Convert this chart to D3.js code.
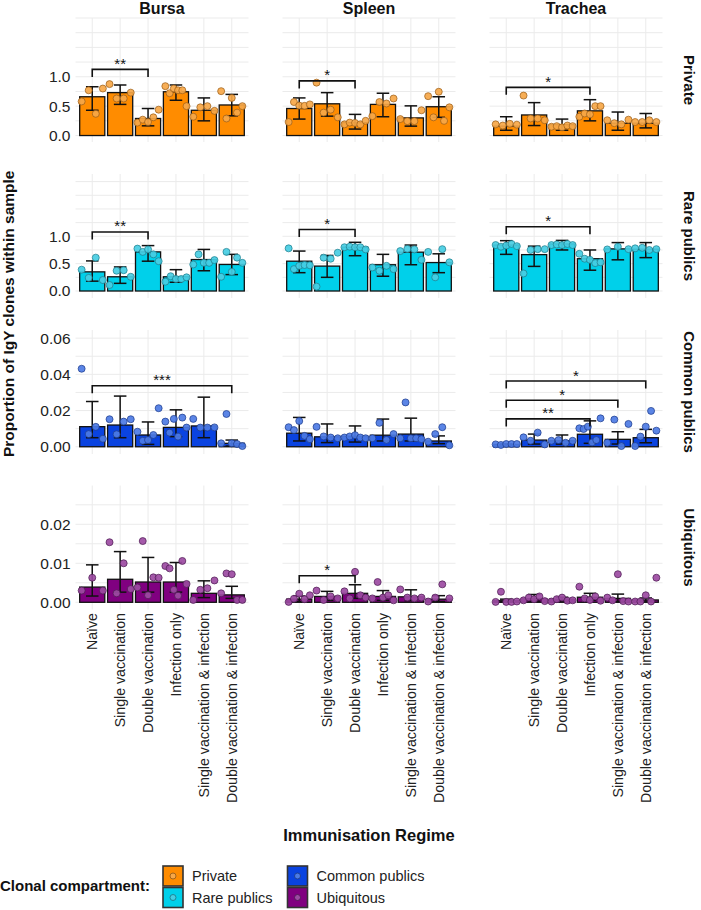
<!DOCTYPE html>
<html><head><meta charset="utf-8">
<script src="https://cdn.jsdelivr.net/npm/d3@7"></script>
<style>body{margin:0;background:#fff} svg{display:block} text{font-family:"Liberation Sans",Arial,Helvetica,sans-serif}</style>
</head><body><svg id="c" width="701" height="910"></svg>
<script>
// ---------------- DATA ----------------
const categories = ["Naïve","Single vaccination","Double vaccination","Infection only","Single vaccination & infection","Double vaccination & infection"];
const tissues = ["Bursa","Spleen","Trachea"];
const compartments = ["Private","Rare publics","Common publics","Ubiquitous"];

// Private (rows: Bursa, Spleen, Trachea)
const privateMean = [[0.66,0.73,0.29,0.745,0.43,0.52],[0.46,0.54,0.22,0.53,0.30,0.49],[0.16,0.35,0.185,0.42,0.21,0.21]];
const privateLow  = [[0.43,0.53,0.165,0.60,0.25,0.335],[0.28,0.33,0.11,0.32,0.16,0.31],[0.09,0.17,0.09,0.25,0.09,0.13]];
const privateHigh = [[0.83,0.86,0.46,0.86,0.64,0.70],[0.64,0.73,0.36,0.72,0.505,0.66],[0.32,0.56,0.28,0.61,0.40,0.375]];
const privatePoints = [
  [[0.58,0.77,0.37,0.80],[0.875,0.63,0.63,0.73],[0.22,0.27,0.23,0.31,0.44],[0.84,0.72,0.80,0.77,0.77,0.50],[0.32,0.48,0.50,0.42],[0.755,0.29,0.64,0.39,0.50]],
  [[0.23,0.57,0.51,0.505,0.53],[0.90,0.39,0.44,0.31],[0.19,0.22,0.215,0.19,0.25],[0.33,0.57,0.545,0.63],[0.28,0.245,0.245,0.43],[0.67,0.31,0.745,0.25,0.48]],
  [[0.19,0.17,0.20,0.185],[0.68,0.29,0.29,0.26],[0.15,0.16,0.14,0.17,0.16],[0.32,0.375,0.36,0.50,0.50],[0.26,0.21,0.19,0.27],[0.23,0.23,0.26,0.23]]
];
// Rare publics
const rareMean = [[0.35,0.26,0.715,0.26,0.575,0.485],[0.545,0.455,0.80,0.48,0.71,0.52],[0.84,0.665,0.86,0.59,0.77,0.765]];
const rareLow  = [[0.18,0.14,0.545,0.16,0.37,0.30],[0.335,0.25,0.645,0.27,0.48,0.335],[0.67,0.45,0.75,0.38,0.57,0.61]];
const rareHigh = [[0.55,0.44,0.83,0.39,0.76,0.67],[0.73,0.65,0.89,0.67,0.84,0.68],[0.92,0.82,0.925,0.75,0.885,0.885]];
const rarePoints = [
  [[0.39,0.24,0.61,0.20],[0.11,0.37,0.38,0.26],[0.775,0.715,0.76,0.67,0.545],[0.17,0.27,0.22,0.22,0.25],[0.485,0.67,0.515,0.515,0.565],[0.26,0.715,0.35,0.61,0.515]],
  [[0.78,0.40,0.46,0.475,0.47],[0.08,0.61,0.59,0.70],[0.80,0.81,0.80,0.80,0.76],[0.43,0.37,0.46,0.40],[0.73,0.77,0.76,0.57],[0.715,0.25,0.765,0.525]],
  [[0.84,0.81,0.83,0.86,0.82],[0.32,0.75,0.765,0.765],[0.84,0.85,0.84,0.86,0.84],[0.68,0.59,0.57,0.51,0.525],[0.76,0.81,0.765],[0.78,0.79,0.75,0.765]]
];
// Common publics
const commonMean = [[0.0111,0.012,0.0065,0.0107,0.0115,0.0019],[0.0075,0.0055,0.0058,0.0064,0.007,0.0032],[0.0013,0.0037,0.0033,0.0069,0.0041,0.005]];
const commonLow  = [[0.005,0.005,0.0013,0.0056,0.005,0.0004],[0.0032,0.0023,0.0026,0.0032,0.0032,0.0017],[0.0010,0.0015,0.0015,0.0019,0.0015,0.0022]];
const commonHigh = [[0.025,0.028,0.0137,0.0204,0.0274,0.0037],[0.0162,0.0126,0.0115,0.0153,0.0158,0.006],[0.0016,0.007,0.0065,0.0143,0.0083,0.0096]];
const commonPoints = [
  [[0.0431,0.007,0.011,0.0044],[0.0152,0.0069,0.0139,0.0152],[0.0083,0.0033,0.0037,0.0065,0.0213],[0.0139,0.0078,0.0154,0.0056,0.0161,0.0106],[0.0154,0.0106,0.0106,0.0107],[0.0019,0.0181,0.0019,0.0015,0.0004]],
  [[0.0108,0.0092,0.0142,0.006,0.0042],[0.011,0.0057,0.0051,0.0047],[0.0051,0.0057,0.0064,0.0051,0.0047],[0.0047,0.0132,0.0038,0.007],[0.0047,0.0245,0.0047,0.0047,0.0042],[0.0028,0.007,0.0108,0.0008]],
  [[0.0013,0.001,0.0015,0.0015,0.0015],[0.0052,0.0033,0.0078,0.0013],[0.0033,0.0037,0.0022,0.0033],[0.0102,0.0098,0.0111,0.0024,0.0037,0.0157],[0.0022,0.015,0.0004,0.0126],[0.0004,0.0056,0.0111,0.0198,0.0089]]
];
// Ubiquitous
const ubiqMean = [[0.0039,0.0059,0.0052,0.0052,0.0023,0.0019],[0.0008,0.0015,0.0023,0.0015,0.0014,0.0008],[0.0004,0.0009,0.0008,0.0013,0.0010,0.0006]];
const ubiqLow  = [[0.0016,0.0026,0.0026,0.0026,0.0012,0.001],[0.0002,0.0005,0.0010,0.0005,0.0004,0.0002],[0.0001,0.0003,0.0003,0.0005,0.0002,0.0002]];
const ubiqHigh = [[0.0096,0.013,0.0115,0.0102,0.0055,0.0041],[0.0016,0.0028,0.0045,0.0030,0.0032,0.0017],[0.0008,0.0020,0.0013,0.0023,0.0021,0.0011]];
const ubiqPoints = [
  [[0.003,0.0063,0.003],[0.0154,0.0023,0.01,0.0034],[0.0038,0.0157,0.0018,0.0064,0.0063],[0.0093,0.0087,0.0032,0.0017,0.0106,0.0047],[0.0006,0.0032,0.0036,0.0056],[0.0023,0.0074,0.0072,0.0006,0.0006]],
  [[0.0001,0.0009,0.0022,0.0008,0.0018],[0.003,0.0006,0.0015,0.001],[0.0028,0.001,0.0078,0.0018,0.0012],[0.001,0.0052,0.0012,0.0018,0.0005],[0.0033,0.0012,0.001,0.0012],[0.0002,0.0012,0.0046,0.001]],
  [[0.0001,0.0027,0.0001,0.0001,0.0002],[0.0005,0.0012,0.0008,0.0015,0.0003],[0.0002,0.0008,0.0012,0.0004,0.0005],[0.004,0.001,0.0006,0.0015,0.0004],[0.0012,0.0005,0.0072,0.0003,0.0002],[0.0002,0.0002,0.0018,0.0002,0.0063]]
];

// significance brackets: row, column, from-category, to-category, height, label
const bracketRow   = [0,0,0,1,1,1,2,2,2,2,3];
const bracketCol   = [0,1,2,0,1,2,0,2,2,2,1];
const bracketFrom  = [0,0,0,0,0,0,0,0,0,0,0];
const bracketTo    = [2,2,3,2,2,3,5,3,4,5,2];
const bracketY     = [1.125,0.93,0.82,1.08,1.125,1.175,0.0337,0.0154,0.0257,0.0363,0.0068];
const bracketLabel = ["**","*","*","**","*","*","***","**","*","*","*"];

// axis ticks per row
const rowGrid = [[0,0.25,0.5,0.75,1,1.25,1.5,1.75,2],[0,0.25,0.5,0.75,1,1.25,1.5,1.75,2],[0,0.01,0.02,0.03,0.04,0.05,0.06],[0,0.005,0.01,0.015,0.02,0.025]];
const rowTickLabels = [[0,0.5,1.0],[0,0.5,1.0],[0,0.02,0.04,0.06],[0,0.01,0.02]];
const rowDomain = [[-0.11,2.0],[-0.128,2.139],[-0.004,0.0645],[-0.00185,0.02995]];

// ---------------- STYLE / LAYOUT ----------------
const fills = ["#FF8C00","#00D0EA","#0A43E0","#800080"];
const ptFills = ["#F6A748","#46CDE3","#4D7BE4","#9C4BA2"];
const ptStrokes = ["#9A5E18","#1D7E8D","#1C3B8C","#4C1A52"];
const panelX0 = [75.5,282.5,489.5], panelW = 173;
const panelY0 = [18,174,330,485.5], panelH = 124;
const FONT = '"Liberation Sans",Arial,Helvetica,sans-serif';

const means  = [privateMean, rareMean, commonMean, ubiqMean];
const lows   = [privateLow, rareLow, commonLow, ubiqLow];
const highs  = [privateHigh, rareHigh, commonHigh, ubiqHigh];
const points = [privatePoints, rarePoints, commonPoints, ubiqPoints];

const svg = d3.select("#c");
svg.append("rect").attr("width",701).attr("height",910).attr("fill","#fff");

for (let r = 0; r < 4; r++) {
  for (let c = 0; c < 3; c++) {
    const x = d3.scaleBand().domain(categories).range([panelX0[c], panelX0[c] + panelW]).paddingInner(0.1).paddingOuter(0.15);
    const y = d3.scaleLinear().domain(rowDomain[r]).range([panelY0[r] + panelH, panelY0[r]]);
    const cx = d => x(d) + x.bandwidth() / 2;
    const g = svg.append("g");
    // grid
    g.selectAll("line.h").data(rowGrid[r]).join("line")
      .attr("x1", panelX0[c]).attr("x2", panelX0[c] + panelW)
      .attr("y1", d => y(d)).attr("y2", d => y(d))
      .attr("stroke", "#EBEBEB").attr("stroke-width", 1);
    g.selectAll("line.v").data(categories).join("line")
      .attr("x1", cx).attr("x2", cx)
      .attr("y1", panelY0[r]).attr("y2", panelY0[r] + panelH)
      .attr("stroke", "#EBEBEB").attr("stroke-width", 1);
    // bars
    const mean = means[r][c], lo = lows[r][c], hi = highs[r][c], pts = points[r][c];
    g.selectAll("rect.bar").data(categories).join("rect")
      .attr("x", d => x(d)).attr("width", x.bandwidth())
      .attr("y", (d, i) => y(mean[i])).attr("height", (d, i) => y(0) - y(mean[i]))
      .attr("fill", fills[r]).attr("stroke", "#111").attr("stroke-width", 1.3);
    // error bars
    const cap = x.step() * 0.45 / 2;
    categories.forEach((cat, i) => {
      const eb = g.append("g").attr("stroke", "#111").attr("stroke-width", 1.5).attr("fill", "none");
      eb.append("line").attr("x1", cx(cat)).attr("x2", cx(cat)).attr("y1", y(lo[i])).attr("y2", y(hi[i]));
      eb.append("line").attr("x1", cx(cat) - cap).attr("x2", cx(cat) + cap).attr("y1", y(lo[i])).attr("y2", y(lo[i]));
      eb.append("line").attr("x1", cx(cat) - cap).attr("x2", cx(cat) + cap).attr("y1", y(hi[i])).attr("y2", y(hi[i]));
    });
    // points (spread across the band, in left-to-right reading order)
    categories.forEach((cat, i) => {
      const vals = pts[i], n = vals.length;
      g.selectAll(null).data(vals).join("circle")
        .attr("cx", (v, j) => cx(cat) + (n > 1 ? (-0.38 + 0.76 * j / (n - 1)) : 0) * x.step())
        .attr("cy", v => y(v)).attr("r", 3.5)
        .attr("fill", ptFills[r]).attr("fill-opacity", 0.92)
        .attr("stroke", ptStrokes[r]).attr("stroke-opacity", 0.8).attr("stroke-width", 0.9);
    });
    // brackets
    bracketRow.forEach((br, k) => {
      if (br !== r || bracketCol[k] !== c) return;
      const xa = cx(categories[bracketFrom[k]]), xb = cx(categories[bracketTo[k]]);
      const yy = y(bracketY[k]);
      g.append("path").attr("d", `M${xa},${yy + 7.5}V${yy}H${xb}V${yy + 7.5}`)
        .attr("fill", "none").attr("stroke", "#111").attr("stroke-width", 1.6);
      g.append("text").attr("x", (xa + xb) / 2).attr("y", yy - 0.5).attr("text-anchor", "middle")
        .style("font-size", "15px").attr("fill", "#111").text(bracketLabel[k]);
    });
    // y axis (first column only)
    if (c === 0) {
      const ax = svg.append("g").attr("transform", `translate(${panelX0[0]},0)`)
        .call(d3.axisLeft(y).tickValues(rowTickLabels[r]).tickSize(0).tickPadding(5)
          .tickFormat(d3.format(r < 2 ? ".1f" : ".2f")));
      ax.select(".domain").remove();
      ax.selectAll("text").style("font-size", "15.5px").style("font-family", FONT).attr("fill", "#222");
    }
    // x axis (bottom row only)
    if (r === 3) {
      const ax = svg.append("g").attr("transform", `translate(0,${panelY0[3] + panelH})`)
        .call(d3.axisBottom(x).tickSize(0));
      ax.select(".domain").remove();
      ax.selectAll("text").attr("transform", "rotate(-90)").attr("x", -3.5).attr("y", 0).attr("dy", "0.36em")
        .attr("text-anchor", "end").style("font-size", "14.2px").style("font-family", FONT).attr("fill", "#222");
    }
  }
}

// column strips
svg.selectAll("text.col").data(tissues).join("text")
  .attr("x", (d, i) => panelX0[i] + panelW / 2).attr("y", 13.5).attr("text-anchor", "middle")
  .style("font-size", "16px").style("font-weight", "bold").attr("fill", "#111").text(d => d);
// row strips
svg.selectAll("text.row").data(compartments).join("text")
  .attr("transform", (d, i) => `translate(689,${panelY0[i] + panelH / 2}) rotate(90)`)
  .attr("text-anchor", "middle").attr("dy", "0.35em")
  .style("font-size", "15px").style("font-weight", "bold").attr("fill", "#111").text(d => d);
// axis titles
svg.append("text").attr("transform", `translate(8.5,${(panelY0[0] + panelY0[3] + panelH) / 2}) rotate(-90)`)
  .attr("text-anchor", "middle").attr("dy", "0.35em")
  .style("font-size", "15.5px").style("font-weight", "bold").attr("fill", "#111")
  .text("Proportion of IgY clones within sample");
svg.append("text").attr("x", (panelX0[0] + panelX0[2] + panelW) / 2).attr("y", 841)
  .attr("text-anchor", "middle").style("font-size", "16.5px").style("font-weight", "bold").attr("fill", "#111")
  .text("Immunisation Regime");

// legend
svg.append("text").attr("x", 0).attr("y", 891).style("font-size", "15px").style("font-weight", "bold")
  .attr("fill", "#111").text("Clonal compartment:");
const legX = [163, 163, 287.5, 287.5], legY = [866, 887.5, 866, 887.5];
compartments.forEach((name, i) => {
  const lg = svg.append("g");
  lg.append("rect").attr("x", legX[i]).attr("y", legY[i]).attr("width", 20).attr("height", 20)
    .attr("fill", fills[i]).attr("stroke", "#333").attr("stroke-width", 1.6);
  lg.append("circle").attr("cx", legX[i] + 10).attr("cy", legY[i] + 10).attr("r", 3)
    .attr("fill", ptFills[i]).attr("stroke", ptStrokes[i]).attr("stroke-width", 0.9);
  lg.append("text").attr("x", legX[i] + 29).attr("y", legY[i] + 10).attr("dy", "0.35em")
    .style("font-size", "14.5px").attr("fill", "#222").text(name);
});
</script></body></html>
